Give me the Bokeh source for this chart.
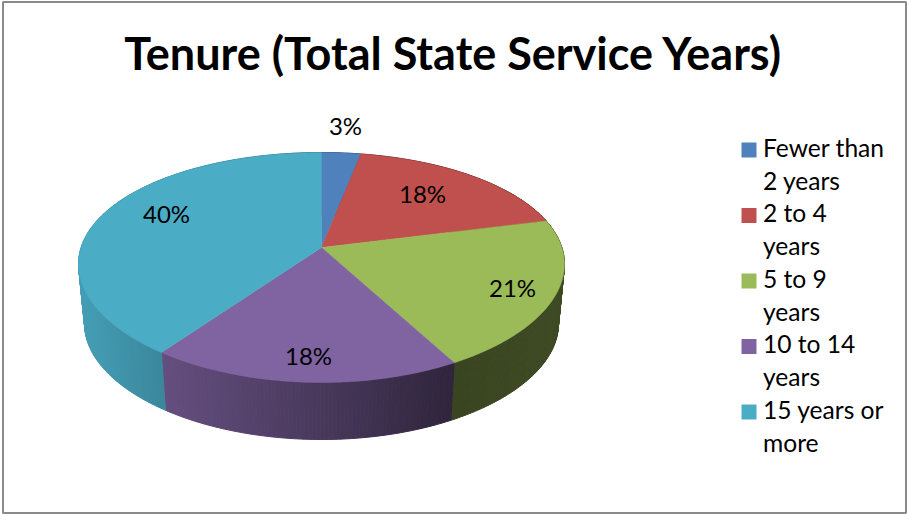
import numpy as np
from bokeh.embed import file_html
from bokeh.models import Range1d
from bokeh.plotting import figure
from bokeh.resources import INLINE
from bokeh.core.properties import value

TITLE = "Tenure (Total State Service Years)"
categories = ["Fewer than 2 years", "2 to 4 years", "5 to 9 years", "10 to 14 years", "15 years or more"]
shares = [3, 18, 21, 18, 40]
colors = ["#4F81BD", "#C0504D", "#9BBB59", "#8064A2", "#4BACC6"]
legend_lines = [["Fewer than", "2 years"], ["2 to 4", "years"], ["5 to 9", "years"],
                ["10 to 14", "years"], ["15 years or", "more"]]
label_positions = [(345, 125), (422, 193), (512, 287), (308, 355), (166, 213)]

FONT = value("Lato")
W, H = 907, 514

# Perspective pie: disc centre on screen, radii, and foreshortening along each screen axis
CX, CY, RX, RY, KX, KY = 321, 247, 240.4, 111.5, 0.145, 0.174
DEPTH, SHRINK = 60.4, 0.975

p = figure(width=W, height=H, x_range=Range1d(0, W), y_range=Range1d(H, 0),
           toolbar_location=None, output_backend="svg", min_border=0, outline_line_color=None)
p.axis.visible = False
p.grid.visible = False


def top_face(theta):
    u, v = np.sin(theta), np.cos(theta)
    return CX + RX * u / (1 + KX * v), CY - RY * v / (1 + KY * v)


def bottom_face(theta):
    u, v = np.sin(theta), np.cos(theta)
    return CX + SHRINK * RX * u / (1 + KX * v), CY + DEPTH - SHRINK * RY * v / (1 + KY * v)


def shade(hex_color, x):
    # Side wall darkens from the left of the pie towards the right
    f = np.interp(x, [78, 165, 320, 453, 565], [0.92, 0.78, 0.57, 0.37, 0.40])
    rgb = [int(hex_color[i:i + 2], 16) for i in (1, 3, 5)]
    return "#%02x%02x%02x" % tuple(int(c * f) for c in rgb)


edges = np.cumsum([0] + shares) / sum(shares) * 2 * np.pi

# Outer wall, in narrow strips so the horizontal shading reads as a gradient
for start, stop, color in zip(edges[:-1], edges[1:], colors):
    steps = np.linspace(start, stop, max(2, int((stop - start) * 70)))
    xs, ys, fills = [], [], []
    for a, b in zip(steps[:-1], steps[1:]):
        tx, ty = top_face(np.array([a, b]))
        bx, by = bottom_face(np.array([b, a]))
        xs.append(list(tx) + list(bx))
        ys.append(list(ty) + list(by))
        fills.append(shade(color, (tx[0] + tx[1]) / 2))
    p.patches(xs, ys, fill_color=fills, line_color=fills, line_width=1)

# Top surface wedges
for start, stop, color in zip(edges[:-1], edges[1:], colors):
    t = np.linspace(start, stop, 120)
    x, y = top_face(t)
    p.patch([CX, *x], [CY, *y], fill_color=color, line_color=color, line_width=0.5)

# Percentage labels
p.text([q[0] for q in label_positions], [q[1] for q in label_positions],
       text=[f"{s}%" for s in shares], text_font=FONT, text_font_size="24px",
       text_align="center", text_baseline="middle", text_color="#000000")

# Legend
for i, (lines, color) in enumerate(zip(legend_lines, colors)):
    y0 = 149.5 + i * 65.5
    p.rect([748.5], [y0], width=15, height=15, fill_color=color, line_color=None)
    p.text([762.5, 762.5], [y0 - 3, y0 + 30], text=lines, text_font=FONT, text_font_size="24.6px",
           text_align="left", text_baseline="middle", text_color="#000000")

# Title
p.text([453], [52], text=[TITLE], text_font=FONT, text_font_size="45px", text_font_style="bold",
       text_align="center", text_baseline="middle", text_color="#000000")

# Chart frame
p.quad(left=[2.5], right=[905.5], top=[1.5], bottom=[512.5], fill_color=None,
       line_color="#8a8a8a", line_width=2, level="overlay")

open("out.html", "w").write(file_html(p, INLINE))
